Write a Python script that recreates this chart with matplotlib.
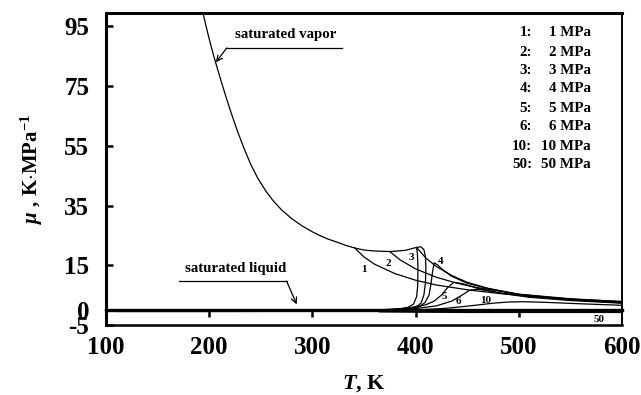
import matplotlib
matplotlib.use("Agg")
import matplotlib.pyplot as plt

plt.rcParams["font.family"] = ["Liberation Serif", "DejaVu Serif"]
plt.rcParams["font.weight"] = "bold"
plt.rcParams["axes.unicode_minus"] = False
plt.rcParams["mathtext.fontset"] = "custom"
plt.rcParams["mathtext.rm"] = "Liberation Serif:bold"
plt.rcParams["mathtext.it"] = "Liberation Serif:italic"
plt.rcParams["mathtext.bf"] = "Liberation Serif:italic:bold"

# Saturation curves
sat_vapor_T = [194, 197, 200, 204, 207, 212, 217, 222, 227, 233, 240, 247, 255, 262, 270,
               280, 290, 300, 307, 315, 325, 333, 341, 350, 360, 375, 390, 401,
               405, 408, 409.5, 410, 409.5, 408, 405.5, 402]
sat_vapor_mu = [99.5, 95.0, 90.8, 85.6, 82.0, 76.2, 70.6, 65.3, 60.3, 54.8, 49.0, 44.2,
                39.8, 36.6, 33.6, 30.6, 28.2, 26.2, 25.0, 23.8, 22.6, 21.6, 20.8, 20.1,
                19.8, 19.6, 20.0, 21.0, 21.2, 20.3, 18.0, 14.0, 9.0, 5.0, 2.5, 1.3]
sat_liquid_T = [110, 200, 300, 350, 370, 385, 395, 400, 402]
sat_liquid_mu = [-0.3, -0.3, -0.25, -0.15, 0.0, 0.3, 0.6, 1.0, 1.3]

# Isobars (T in K, mu in K/MPa)
p1_T = [341, 350, 360, 380, 400, 420, 450, 480, 520, 560, 600]
p1_mu = [20.8, 17.8, 15.4, 12.2, 10.0, 8.4, 6.8, 5.6, 4.4, 3.5, 2.9]
p2_T = [375, 385, 400, 420, 440, 460, 500, 550, 600]
p2_mu = [19.6, 16.8, 13.8, 11.0, 9.0, 7.5, 5.3, 3.8, 2.8]
p3_T = [360, 380, 392, 398, 401, 402, 402.3, 401.8, 401, 410, 420, 435, 450, 470,
        500, 550, 600]
p3_mu = [0.0, 0.2, 0.8, 2.0, 4.5, 8.0, 14.0, 18.5, 21.0, 17.4, 14.6, 11.6, 9.3, 7.3,
         5.3, 3.6, 2.6]
p4_T = [365, 390, 403, 409, 413, 415, 416.5, 418, 421, 426, 435, 450, 470, 500, 550, 600]
p4_mu = [0.0, 0.3, 1.0, 2.5, 5.0, 9.0, 13.0, 15.8, 15.2, 13.6, 11.3, 9.0, 7.2, 5.2,
         3.5, 2.5]
p5_T = [365, 385, 400, 410, 418, 425, 431, 437, 445, 460, 480, 510, 550, 600]
p5_mu = [0.0, 0.4, 1.0, 1.8, 3.0, 5.0, 7.5, 9.3, 8.9, 7.3, 5.8, 4.5, 3.4, 2.4]
p6_T = [380, 400, 420, 435, 445, 452, 460, 470, 485, 510, 550, 600]
p6_mu = [0.0, 0.5, 1.4, 3.0, 5.0, 6.6, 7.0, 6.5, 5.5, 4.3, 3.2, 2.3]
p10_T = [400, 430, 455, 475, 490, 505, 525, 560, 600]
p10_mu = [0.0, 0.6, 1.5, 2.3, 2.7, 2.8, 2.6, 2.1, 1.6]
p50_T = [365, 400, 450, 500, 550, 600]
p50_mu = [-0.6, -0.7, -0.8, -0.8, -0.8, -0.8]

isobars = [(p1_T, p1_mu), (p2_T, p2_mu), (p3_T, p3_mu), (p4_T, p4_mu),
           (p5_T, p5_mu), (p6_T, p6_mu), (p10_T, p10_mu), (p50_T, p50_mu)]

curve_labels = ["1", "2", "3", "4", "5", "6", "10", "50"]
curve_label_T = [350, 374, 395.5, 424, 427.5, 441, 468, 578]
curve_label_mu = [13.6, 15.5, 17.5, 16.4, 4.7, 3.0, 3.2, -3.2]

legend_keys = ["1:", "2:", "3:", "4:", "5:", "6:", "10:", "50:"]
legend_vals = ["1 MPa", "2 MPa", "3 MPa", "4 MPa", "5 MPa", "6 MPa", "10 MPa", "50 MPa"]

x_ticks = [100, 200, 300, 400, 500, 600]
y_ticks = [-5, 0, 15, 35, 55, 75, 95]
axis_ticks = [200, 300, 400, 500]

fig = plt.figure(figsize=(6.41, 3.95), dpi=100)
ax = fig.add_axes([106 / 641, 1 - 325 / 395, (622 - 106) / 641, (325 - 13) / 395])

lw = 0.9
ax.plot(sat_vapor_T, sat_vapor_mu, color="black", lw=lw)
ax.plot(sat_liquid_T, sat_liquid_mu, color="black", lw=1.6)
for T, mu in isobars:
    ax.plot(T, mu, color="black", lw=lw)

for lab, t, m in zip(curve_labels, curve_label_T, curve_label_mu):
    ax.text(t, m, lab, fontsize=8, ha="center", va="center")

ax.set_xlim(100, 600)
ax.set_ylim(-5, 99.5)
ax.set_xticks(x_ticks)
ax.set_yticks(y_ticks)
ax.tick_params(axis="x", length=0, pad=8, labelsize=18)
ax.tick_params(axis="y", direction="in", length=5, width=1.8, pad=12, labelsize=18)
for side, w in [("left", 2.2), ("bottom", 1.8), ("top", 2.2), ("right", 1.4)]:
    ax.spines[side].set_linewidth(w)

# Horizontal axis line at mu = 0 with upward ticks
ymin, ymax = ax.get_ylim()
zero_axis = ax.secondary_xaxis((0 - ymin) / (ymax - ymin))
zero_axis.set_xticks(axis_ticks)
zero_axis.set_xticklabels([])
zero_axis.tick_params(direction="out", length=5, width=1.8)
zero_axis.spines["bottom"].set_linewidth(2.4)

ax.set_xlabel(r"$\mathbf{T}$, K", fontsize=16, fontweight="bold", labelpad=10)
ax.set_ylabel(r"$\mu$ , K$\cdot$MPa$^{\mathrm{-1}}$", fontsize=15, fontweight="bold",
              labelpad=14)

# Annotations
ax.text(274.4, 92.2, "saturated vapor", fontsize=10.7, ha="center", va="center")
ax.plot([328.4, 217], [87.8, 87.8], color="black", lw=0.9)
ax.annotate("", xy=(206.5, 83.0), xytext=(217, 87.8),
            arrowprops=dict(arrowstyle="->", color="black", lw=0.9, shrinkA=0, shrinkB=0))
ax.text(226, 13.8, "saturated liquid", fontsize=10.7, ha="center", va="center")
ax.plot([171, 275], [9.7, 9.7], color="black", lw=0.9)
ax.annotate("", xy=(284.8, 1.9), xytext=(275, 9.7),
            arrowprops=dict(arrowstyle="->", color="black", lw=0.9, shrinkA=0, shrinkB=0))

# Pressure key
row_y = [33, 52, 71, 89, 108, 127, 146, 164]
for k, v, y in zip(legend_keys, legend_vals, row_y):
    fy = 1 - y / 395
    fig.text(532 / 641, fy, k, fontsize=10.8, ha="right", va="center")
    fig.text(591 / 641, fy, v, fontsize=10.8, ha="right", va="center")

fig.savefig("out.png", dpi=100)
